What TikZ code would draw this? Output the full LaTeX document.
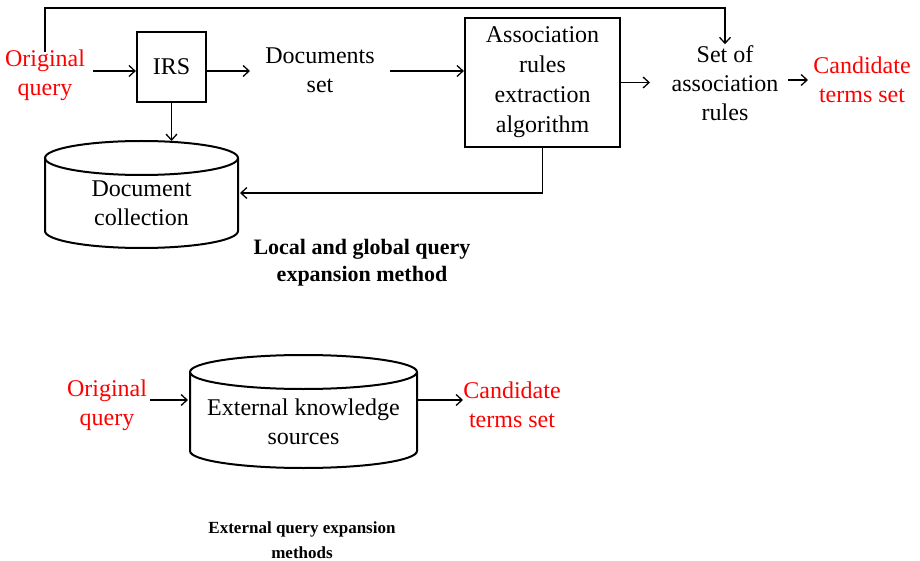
\documentclass[tikz,border=0pt]{standalone}
\usepackage{fontspec}
\setmainfont{Liberation Serif}
\usetikzlibrary{arrows.meta}
\tikzset{
  txt/.style={align=center, inner sep=2pt, font=\fontsize{24}{29}\selectfont},
  redtxt/.style={txt, text=red},
  procbox/.style={txt, draw, line width=2.2pt, inner sep=0},
  arr/.style={line width=1.3pt, -{Straight Barb[length=6pt, width=11pt, line width=1.3pt]}},
  drum/.style={line width=2pt},
  caption/.style={align=center, font=\bfseries\fontsize{22}{27}\selectfont}
}
\begin{document}
\begin{tikzpicture}[x=1pt, y=-1pt]
\useasboundingbox (0,0) rectangle (920,561);

% local and global method
\node [redtxt] (oq1) at (45,75) {Original\\query};
\node [procbox, minimum width=69pt, minimum height=70pt] (irs) at (171.5,67) {IRS};
\node [txt] (docset) at (320,70) {Documents\\set};
\node [procbox, minimum width=155pt, minimum height=129pt, font=\fontsize{24}{30}\selectfont] (arx) at (542.5,82.5) {Association\\rules\\extraction\\algorithm};
\node [txt] (sar) at (725,83) {Set of\\association\\rules};
\node [redtxt] (cts1) at (862,80) {Candidate\\terms set};

\draw [drum] (45,158) -- (45,231) arc [start angle=180, end angle=360, x radius=96.5pt, y radius=17pt] -- (238,158);
\draw [drum] (141.5,158) ellipse [x radius=96.5pt, y radius=17pt];
\node [txt] (dc) at (141.5,203) {Document\\collection};
\coordinate (dctop) at (171.5,141);
\coordinate (dcright) at (240,193);
\coordinate (topline) at (0,8);

\draw [arr] (93,71) coordinate (q1) -- (q1 -| irs.west);
\draw [arr] (irs.east |- q1) -- (250,71);
\draw [arr] (390,71) -- (arx.west |- q1);
\draw [arr] (arx.east) -- (650,82.5);
\draw [arr] (788,80) -- (808,80);
\draw [arr] ([yshift=-5pt]oq1.north) |- (topline -| sar.north) -- ([yshift=-1pt]sar.north);
\draw [arr] (irs.south) -- (dctop);
\draw [arr] (arx.south) |- (dcright);

\node [caption] (lab1) at (362,263) {Local and global query\\expansion method};

% external method
\node [redtxt] (oq2) at (107,405) {Original\\query};
\draw [drum] (190,372) -- (190,451) arc [start angle=180, end angle=360, x radius=113.5pt, y radius=17pt] -- (417,372);
\draw [drum] (303.5,372) ellipse [x radius=113.5pt, y radius=17pt];
\node [txt] (eks) at (303.5,422) {External knowledge\\sources};
\node [redtxt] (cts2) at (512,405) {Candidate\\terms set};
\coordinate (eksleft) at (188,400);
\coordinate (eksright) at (417,400);

\draw [arr] (150,400) -- (eksleft);
\draw [arr] (eksright) -- (463,400);

\node [caption, font=\bfseries\fontsize{17}{25}\selectfont] (lab2) at (302,540) {External query expansion\\methods};
\end{tikzpicture}
\end{document}
